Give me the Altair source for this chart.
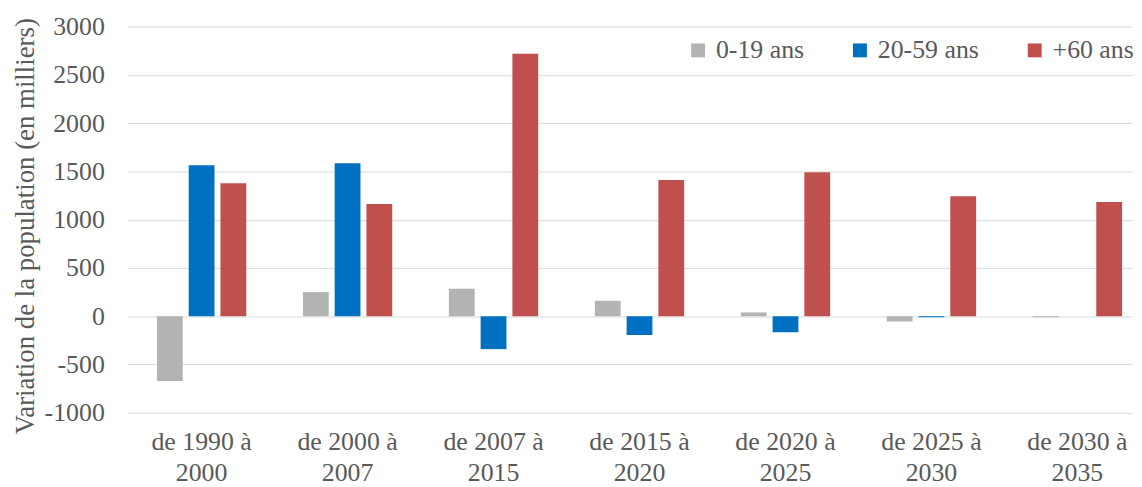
import altair as alt
import pandas as pd

periods = ["de 1990 à 2000", "de 2000 à 2007", "de 2007 à 2015", "de 2015 à 2020",
           "de 2020 à 2025", "de 2025 à 2030", "de 2030 à 2035"]
groups = ["0-19 ans", "20-59 ans", "+60 ans"]
v_0_19 = [-670, 250, 285, 160, 40, -55, -10]
v_20_59 = [1565, 1585, -340, -195, -165, -10, 0]
v_60 = [1378, 1162, 2718, 1410, 1492, 1244, 1182]
colors = ["#B3B3B3", "#0070C0", "#C0504D"]

rows = []
for i, p in enumerate(periods):
    for g, vals in zip(groups, [v_0_19, v_20_59, v_60]):
        rows.append({"periode": p, "groupe": g, "valeur": vals[i]})
df = pd.DataFrame(rows)

font = "Liberation Serif, Times New Roman, DejaVu Serif, serif"
grey = "#595959"

chart = alt.Chart(df).mark_bar().encode(
    x=alt.X("periode:N", sort=periods, title=None,
            scale=alt.Scale(paddingInner=0.388, paddingOuter=0.136, align=0.75),
            axis=alt.Axis(labelAngle=0, labelExpr="[slice(datum.label,0,9), slice(datum.label,10)]",
                          labelFont=font, labelFontSize=26, labelColor=grey,
                          labelPadding=16, labelLineHeight=31, domain=False, ticks=False)),
    xOffset=alt.XOffset("groupe:N", sort=groups,
                        scale=alt.Scale(paddingInner=0.1875, paddingOuter=0)),
    y=alt.Y("valeur:Q", title="Variation de la population (en milliers)",
            scale=alt.Scale(domain=[-1000, 3000], nice=False),
            axis=alt.Axis(values=list(range(-1000, 3001, 500)), labelExpr="datum.value + ''",
                          labelFont=font, labelFontSize=26,
                          labelColor=grey, titleFont=font, titleFontSize=27, titleColor=grey,
                          titleFontWeight="normal", domain=False, ticks=False, labelPadding=23,
                          titleBaseline="middle", titleX=-102, titleY=200.5,
                          gridColor="#D9D9D9", gridWidth=1)),
    color=alt.Color("groupe:N", sort=groups, scale=alt.Scale(domain=groups, range=colors),
                    legend=alt.Legend(title=None, orient="none", legendX=562, legendY=11,
                                      direction="horizontal", symbolType="square", symbolSize=196,
                                      labelFont=font, labelFontSize=26, labelColor=grey,
                                      labelOffset=5, columnPadding=43, symbolStrokeWidth=0)),
).properties(
    width=1012, height=389,
    autosize=alt.AutoSizeParams(type="none"),
    padding={"left": 120, "top": 17, "right": 2, "bottom": 73},
).configure_view(stroke=None)

chart.save("out.html", embed_options={"renderer": "svg", "actions": False})
